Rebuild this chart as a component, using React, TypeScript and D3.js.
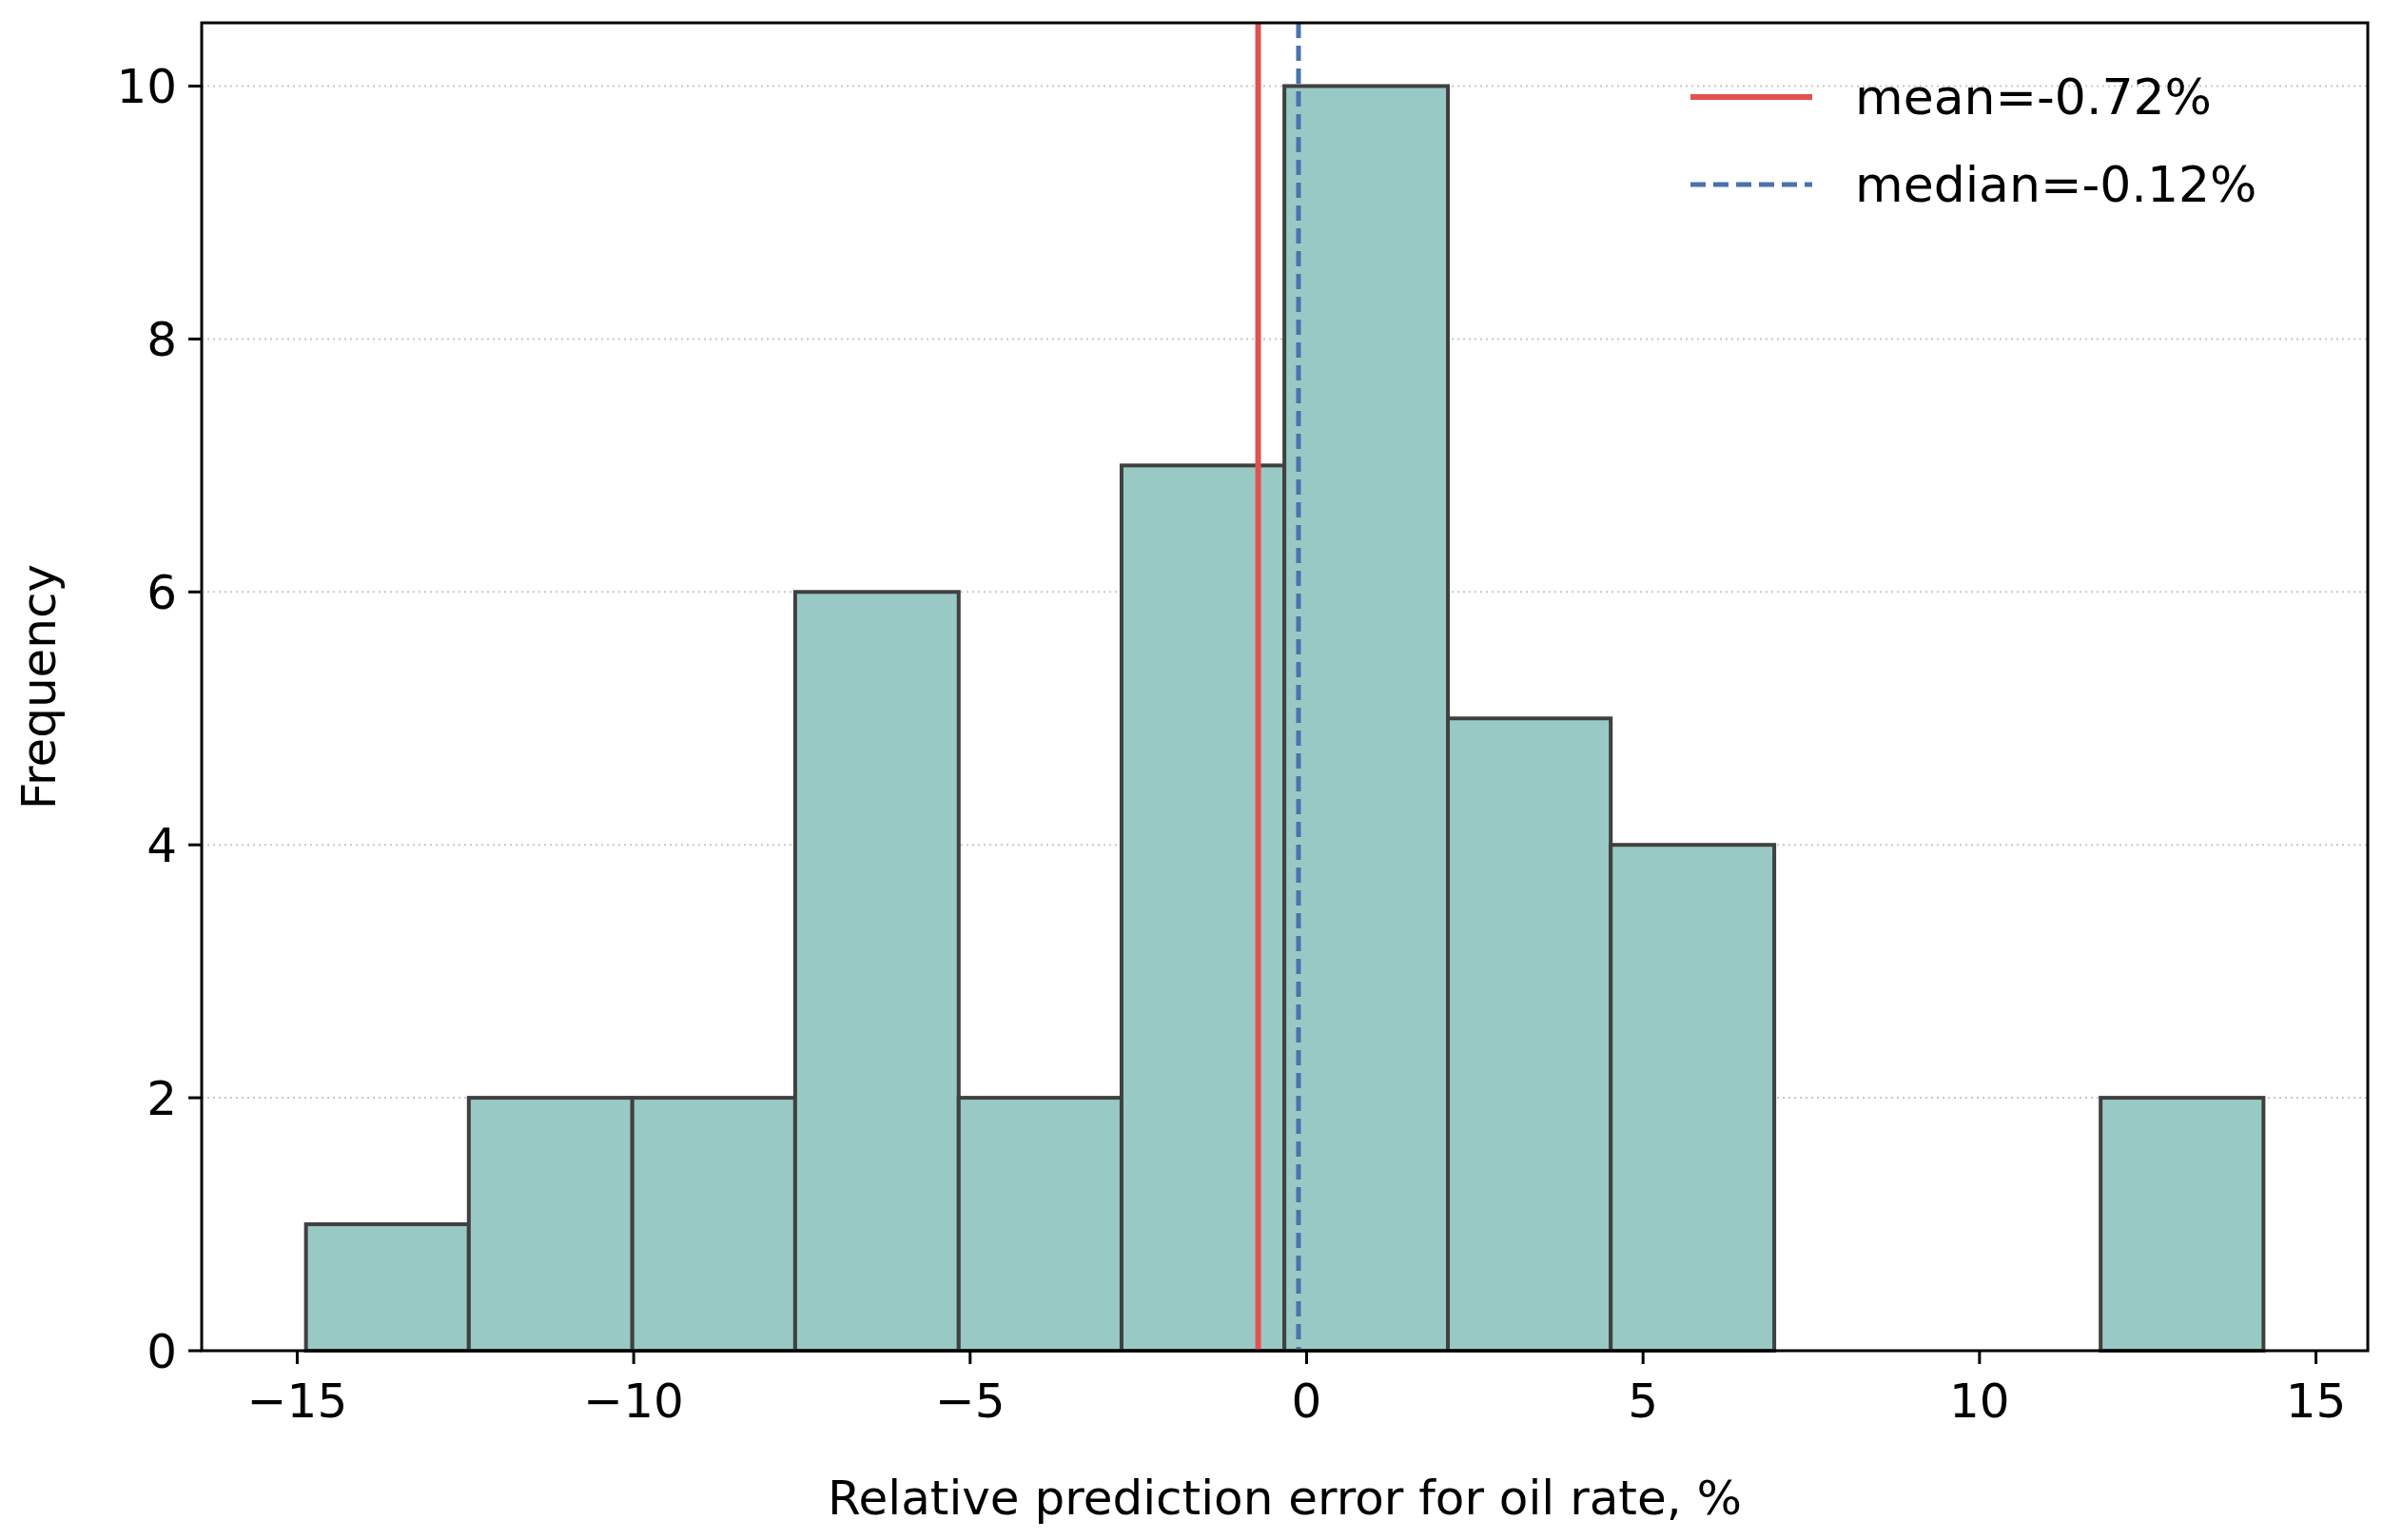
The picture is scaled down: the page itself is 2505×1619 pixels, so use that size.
import React from "react";
import * as d3 from "d3";

// histogram bin edges and counts
const binEdges = [-14.87, -12.45, -10.02, -7.6, -5.17, -2.75, -0.33, 2.1, 4.52, 6.95, 9.37, 11.8, 14.22];
const counts = [1, 2, 2, 6, 2, 7, 10, 5, 4, 0, 0, 2];
const xTicks = [-15, -10, -5, 0, 5, 10, 15];
const yTicks = [0, 2, 4, 6, 8, 10];
const meanValue = -0.72;
const medianValue = -0.12;

const W = 2505, H = 1619;
const left = 212, right = 2489, top = 24, bottom = 1420;
const font = "DejaVu Sans, sans-serif";

const App = () => {
    const x = d3.scaleLinear().domain([-16.42, 15.77]).range([left, right]);
    const y = d3.scaleLinear().domain([0, 10.5]).range([bottom, top]);
    const bins = counts.map((c, i) => ({x0: binEdges[i], x1: binEdges[i + 1], c}));

    return (
        <svg width={W} height={H} style={{position: "absolute", left: 0, top: 0, background: "#fff"}}>
            {/* dotted horizontal grid */}
            {yTicks.filter(t => t > 0).map(t => (
                <line key={t} x1={left} x2={right} y1={y(t)} y2={y(t)} stroke="#c8c8c8" strokeWidth={2} strokeDasharray="2,4"/>
            ))}
            {bins.filter(b => b.c > 0).map((b, i) => (
                <rect key={i} x={x(b.x0)} y={y(b.c)} width={x(b.x1) - x(b.x0)} height={y(0) - y(b.c)}
                      fill="#99c9c4" stroke="#404040" strokeWidth={4}/>
            ))}
            <line x1={x(meanValue)} x2={x(meanValue)} y1={top} y2={bottom} stroke="#e05252" strokeWidth={6}/>
            <line x1={x(medianValue)} x2={x(medianValue)} y1={top} y2={bottom} stroke="#4a72ad" strokeWidth={5} strokeDasharray="16,8"/>
            <rect x={left} y={top} width={right - left} height={bottom - top} fill="none" stroke="#000" strokeWidth={3}/>
            {xTicks.map(t => (
                <g key={t} transform={`translate(${x(t)},${bottom})`}>
                    <line y2={14} stroke="#000" strokeWidth={3}/>
                    <text y={70} textAnchor="middle" fontFamily={font} fontSize={50}>{t < 0 ? `\u2212${-t}` : t}</text>
                </g>
            ))}
            {yTicks.map(t => (
                <g key={t} transform={`translate(${left},${y(t)})`}>
                    <line x2={-14} stroke="#000" strokeWidth={3}/>
                    <text x={-26} dy="0.35em" textAnchor="end" fontFamily={font} fontSize={50}>{t}</text>
                </g>
            ))}
            <text x={(left + right) / 2} y={1592} textAnchor="middle" fontFamily={font} fontSize={50}>
                Relative prediction error for oil rate, %
            </text>
            <text transform={`translate(58,${(top + bottom) / 2}) rotate(-90)`} textAnchor="middle" fontFamily={font} fontSize={50}>
                Frequency
            </text>
            {/* legend */}
            <line x1={1777} x2={1905} y1={102} y2={102} stroke="#e05252" strokeWidth={6}/>
            <text x={1950} y={102} dy="0.35em" fontFamily={font} fontSize={52}>mean={meanValue.toFixed(2)}%</text>
            <line x1={1777} x2={1905} y1={194} y2={194} stroke="#4a72ad" strokeWidth={5} strokeDasharray="16,8"/>
            <text x={1950} y={194} dy="0.35em" fontFamily={font} fontSize={52}>median={medianValue.toFixed(2)}%</text>
        </svg>
    );
};

export default App;
